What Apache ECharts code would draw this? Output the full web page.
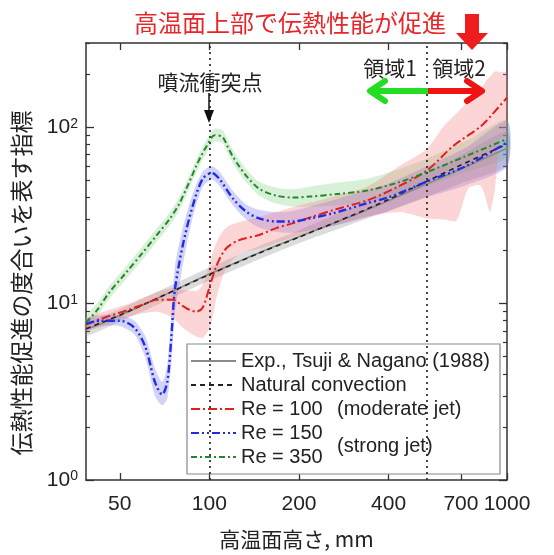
<!DOCTYPE html>
<html>
<head>
<meta charset="utf-8">
<script src="https://cdn.jsdelivr.net/npm/echarts@6.0.0/dist/echarts.min.js"></script>
<style>
html,body{margin:0;padding:0;background:#fff;}
#chart{width:554px;height:555px;}
</style>
</head>
<body>
<div id="chart"></div>
<script>
// ---- axis ticks ----
const xTicks = [50, 100, 200, 400, 700, 1000];
const xTickLabels = ['50', '100', '200', '400', '700', '1000'];
const yTicks = [1, 10, 100];
const yTickExp = ['0', '1', '2'];
const yMinorTicks = [2, 3, 4, 5, 6, 7, 8, 9, 20, 30, 40, 50, 60, 70, 80, 90, 200, 300];
const markX = [100, 538];

// ---- natural convection & experiment ----
const xNat = [38.5, 50, 70, 100, 150, 200, 300, 400, 540, 700, 1000];
const yNat = [7.2, 8.6, 11.1, 14.6, 19.6, 23.8, 31.5, 38.9, 49.5, 61, 80];
const yExp = [7.1, 8.55, 11.1, 14.7, 19.7, 23.9, 31.3, 38.3, 47.7, 58, 76];
const expLow = [6.6, 7.9, 10.2, 13.5, 18.1, 22.0, 28.2, 33.5, 40.5, 48, 61];
const expHigh = [7.7, 9.3, 12.1, 16.0, 21.5, 26.0, 35, 43.5, 55, 69, 94];

// ---- Re = 100 ----
const xRe100 = [38.5, 45, 52.8, 60, 66.6, 75.3, 81.4, 86, 90.4, 95, 100.7, 106, 114, 126, 147, 167, 190, 218, 270, 338, 430, 538, 661, 816, 903, 1000];
const yRe100 = [7.6, 8.4, 9.15, 9.9, 10.5, 10.5, 9.7, 9.2, 9.0, 9.5, 12.8, 16.6, 20.6, 22.9, 24.5, 26.7, 28.5, 30.8, 34.5, 38.4, 46, 56.8, 78.5, 101, 121, 147];
const xRe100Band = [38.5, 52.8, 66.6, 75.3, 81.4, 90.4, 95, 100.7, 106, 114, 126, 147, 167, 200, 270, 338, 437, 536, 612, 677, 741, 811, 843, 876, 911, 947, 1000];
const re100Low = [7.0, 8.4, 9.0, 8.3, 7.3, 6.5, 6.4, 7.4, 11, 16, 19, 20.5, 22, 24.4, 28, 31, 33, 30.4, 30, 29.6, 44.9, 46.8, 41, 33.2, 44.9, 85, 90];
const re100High = [8.2, 9.9, 11.6, 12.3, 12, 11.8, 12.8, 17.5, 22.5, 27, 29, 31, 33, 36, 41, 46, 60.5, 75, 101, 120, 140, 160, 180, 194, 207, 205, 203];

// ---- Re = 150 ----
const xRe150 = [38.5, 43, 50, 56, 61, 65.6, 69.4, 72.2, 74.5, 76.5, 81.4, 88, 95, 102, 108, 120, 133, 147, 167, 190, 218, 260, 338, 400, 538, 732, 1000];
const yRe150 = [7.7, 8.0, 8.0, 7.3, 5.65, 3.6, 3.05, 3.6, 6.4, 11.8, 21.4, 36, 51, 55, 51, 39.4, 33.2, 30.4, 29.2, 29.2, 30.4, 32.5, 37, 40, 49.2, 60.4, 82];
const re150Low = [7.2, 7.45, 7.45, 6.7, 4.9, 3.0, 2.65, 2.9, 4.6, 8.5, 16.5, 31, 46, 50.5, 46.5, 36, 30, 27, 25.5, 25.2, 26, 27.5, 31, 33.5, 40, 47, 60];
const re150High = [8.2, 8.6, 8.6, 8.0, 6.5, 4.3, 3.6, 4.5, 8.8, 16, 27, 42, 56, 60, 56, 43.5, 36.5, 34, 33, 33.5, 35.5, 38.5, 44, 48, 60, 77, 108];

// ---- Re = 350 ----
const xRe350 = [38.5, 42, 46, 52, 59.5, 66, 73.8, 79, 83.7, 87, 90.4, 94, 98.1, 104, 110.7, 115, 119.5, 126, 133, 147, 167, 190, 217, 270, 338, 430, 538, 732, 1000];
const yRe350 = [7.8, 9.2, 11.5, 14.7, 19.3, 24, 30.4, 36.5, 44.8, 52, 60.4, 69, 78.5, 90, 88, 78, 68.8, 60, 53, 44.8, 41, 39.9, 40.4, 41.8, 43.7, 48.5, 55.6, 68.8, 85.7];
const re350Low = [7.2, 8.5, 10.6, 13.5, 17.7, 22, 27.9, 33.5, 41, 47.8, 55.5, 63.5, 72, 82.8, 81, 71.8, 63.3, 55, 48.5, 41, 37, 35.5, 35.5, 36, 37.5, 41, 46.5, 56, 68];
const re350High = [8.5, 10, 12.5, 15.9, 21, 26.2, 33.1, 39.8, 48.8, 56.6, 65.8, 75, 85.5, 98, 96, 85, 75, 65.5, 58, 49, 45.5, 44.5, 46, 48.5, 51, 57.5, 66.5, 84, 110];

const CJK = '"Noto Sans CJK JP", sans-serif';
const LAT = '"Liberation Sans", Arial, sans-serif';

function pairs(xs, ys) { return xs.map((x, i) => [x, ys[i]]); }

function band(xs, lo, hi, color) {
  return {
    type: 'custom', silent: true, z: 1,
    data: xs.map((x, i) => [x, lo[i], hi[i]]),
    encode: { x: 0, y: [1, 2] },
    renderItem: function (params, api) {
      if (params.dataIndex !== 0) return null;
      const pts = [];
      for (let i = 0; i < xs.length; i++) pts.push(api.coord([xs[i], hi[i]]));
      for (let i = xs.length - 1; i >= 0; i--) pts.push(api.coord([xs[i], lo[i]]));
      return { type: 'polygon', shape: { points: pts, smooth: 0.25 }, style: { fill: color } };
    }
  };
}

function line(name, xs, ys, color, width, dash, z) {
  return {
    type: 'line', name: name, data: pairs(xs, ys), symbol: 'none', showSymbol: false,
    smooth: 0.3, z: z, silent: true,
    lineStyle: { color: color, width: width, type: dash },
    itemStyle: { color: color, opacity: 0 },
    emphasis: { disabled: true }
  };
}

const xBase = {
  type: 'log', min: 38.5, max: 1000, logBase: 10,
  splitLine: { show: false }, minorTick: { show: false },
  axisLine: { show: true, lineStyle: { color: '#333', width: 1.5 } },
  axisTick: { show: true, inside: true, length: 7, customValues: xTicks, lineStyle: { color: '#333', width: 1.3 } }
};
const yBase = {
  type: 'log', min: 1, max: 300, logBase: 10,
  splitLine: { show: false }, minorTick: { show: false }
};

const chart = echarts.init(document.getElementById('chart'), null, { renderer: 'canvas' });

const nat = line('Natural convection', xNat, yNat, '#222', 1.6, [5, 4], 4);
nat.markLine = {
  silent: true, symbol: ['none', 'none'], label: { show: false },
  lineStyle: { color: '#333', type: [2, 4], width: 1.8, opacity: 1 },
  data: markX.map(v => ({ xAxis: v }))
};

const option = {
  animation: false,
  textStyle: { fontFamily: LAT },
  grid: { left: 86, right: 47, top: 43, bottom: 71, containLabel: false },
  xAxis: [
    Object.assign({}, xBase, {
      position: 'bottom',
      axisLabel: {
        customValues: xTicks, fontSize: 21, color: '#222', margin: 14, fontFamily: LAT,
        formatter: v => { const i = xTicks.indexOf(Math.round(v)); return i >= 0 ? xTickLabels[i] : ''; }
      },
      name: '高温面高さ, mm', nameLocation: 'middle', nameGap: 49,
      nameTextStyle: { fontSize: 21, color: '#222', fontFamily: CJK }
    }),
    Object.assign({}, xBase, { position: 'top', axisLabel: { show: false } })
  ],
  yAxis: [
    Object.assign({}, yBase, {
      position: 'left',
      axisLine: { show: true, lineStyle: { color: '#333', width: 1.5 } },
      axisTick: { show: true, inside: true, length: 8, customValues: yTicks, lineStyle: { color: '#333', width: 1.3 } },
      axisLabel: {
        customValues: yTicks, margin: 8, color: '#222',
        formatter: v => { const i = yTicks.indexOf(Math.round(v)); return '{b|10}{s|' + (i >= 0 ? yTickExp[i] : '') + '}'; },
        rich: {
          b: { fontSize: 21, fontFamily: LAT, color: '#222' },
          s: { fontSize: 14, fontFamily: LAT, color: '#222', verticalAlign: 'top' }
        }
      }
    }),
    Object.assign({}, yBase, {
      position: 'left', axisLine: { show: false }, axisLabel: { show: false },
      axisTick: { show: true, inside: true, length: 4, customValues: yMinorTicks, lineStyle: { color: '#333', width: 1.2 } }
    }),
    Object.assign({}, yBase, {
      position: 'right',
      axisLine: { show: true, lineStyle: { color: '#333', width: 1.5 } }, axisLabel: { show: false },
      axisTick: { show: true, inside: true, length: 8, customValues: yTicks, lineStyle: { color: '#333', width: 1.3 } }
    }),
    Object.assign({}, yBase, {
      position: 'right', axisLine: { show: false }, axisLabel: { show: false },
      axisTick: { show: true, inside: true, length: 4, customValues: yMinorTicks, lineStyle: { color: '#333', width: 1.2 } }
    })
  ],
  legend: {
    orient: 'vertical', left: 187, top: 344,
    data: ['Exp., Tsuji & Nagano (1988)', 'Natural convection', 'Re = 100', 'Re = 150', 'Re = 350'],
    itemWidth: 45, itemHeight: 12, itemGap: 4,
    padding: [7, 10, 7, 3],
    backgroundColor: '#fff', borderColor: '#888', borderWidth: 1.2,
    itemStyle: { opacity: 0 },
    textStyle: { fontSize: 20, color: '#222', fontFamily: LAT, lineHeight: 20 },
    selectedMode: false
  },
  series: [
    band(xNat, expLow, expHigh, 'rgba(130,130,130,0.28)'),
    band(xRe350, re350Low, re350High, 'rgba(110,200,110,0.28)'),
    band(xRe150, re150Low, re150High, 'rgba(110,110,235,0.30)'),
    band(xRe100Band, re100Low, re100High, 'rgba(245,120,120,0.30)'),
    line('Exp., Tsuji & Nagano (1988)', xNat, yExp, '#8a8a8a', 1.6, 'solid', 3),
    nat,
    line('Re = 100', xRe100, yRe100, '#e3201c', 2, [9, 3, 2, 3], 5),
    line('Re = 150', xRe150, yRe150, '#1f2ee6', 2.4, [8, 3, 2, 3, 2, 3], 6),
    line('Re = 350', xRe350, yRe350, '#24882a', 2, [6, 3, 2, 3], 7)
  ],
  graphic: [
    { type: 'text', z: 100, x: 21, y: 283, rotation: Math.PI / 2, style: { text: '伝熱性能促進の度合いを表す指標', fill: '#222', fontSize: 23, fontFamily: CJK, align: 'center', verticalAlign: 'middle' } },
    { type: 'text', z: 100, x: 290, y: 23, style: { text: '高温面上部で伝熱性能が促進', fill: '#e8262a', fontSize: 24, fontFamily: CJK, align: 'center', verticalAlign: 'middle' } },
    { type: 'polygon', z: 100, shape: { points: [[465, 14], [479, 14], [479, 33], [488, 33], [472, 50], [456, 33], [465, 33]] }, style: { fill: '#ee1c1c' } },
    { type: 'text', z: 100, x: 210, y: 82, style: { text: '噴流衝突点', fill: '#222', fontSize: 21, fontFamily: CJK, align: 'center', verticalAlign: 'middle', backgroundColor: '#fff' } },
    { type: 'line', z: 100, shape: { x1: 209, y1: 93, x2: 209, y2: 112 }, style: { stroke: '#111', lineWidth: 1.5 } },
    { type: 'polygon', z: 100, shape: { points: [[204, 110], [214, 110], [209, 123]] }, style: { fill: '#111' } },
    { type: 'text', z: 100, x: 390, y: 68, style: { text: '領域1', fill: '#222', fontSize: 21, fontFamily: CJK, align: 'center', verticalAlign: 'middle' } },
    { type: 'text', z: 100, x: 459, y: 68, style: { text: '領域2', fill: '#222', fontSize: 21, fontFamily: CJK, align: 'center', verticalAlign: 'middle' } },
    { type: 'polyline', z: 100, shape: { points: [[428, 91], [372, 91]] }, style: { stroke: '#22dd22', lineWidth: 6, fill: null } },
    { type: 'polyline', z: 100, shape: { points: [[385, 81], [370, 91], [385, 101]] }, style: { stroke: '#22dd22', lineWidth: 6, lineCap: 'round', lineJoin: 'round', fill: null } },
    { type: 'polyline', z: 100, shape: { points: [[428, 91], [480, 91]] }, style: { stroke: '#ee1414', lineWidth: 6, fill: null } },
    { type: 'polyline', z: 100, shape: { points: [[467, 81], [482, 91], [467, 101]] }, style: { stroke: '#ee1414', lineWidth: 6, lineCap: 'round', lineJoin: 'round', fill: null } },
    { type: 'text', z: 100, x: 337, y: 409, style: { text: '(moderate jet)', fill: '#222', fontSize: 20, fontFamily: LAT, align: 'left', verticalAlign: 'middle' } },
    { type: 'text', z: 100, x: 337, y: 446, style: { text: '(strong jet)', fill: '#222', fontSize: 20, fontFamily: LAT, align: 'left', verticalAlign: 'middle' } }
  ]
};
chart.setOption(option);
</script>
</body>
</html>
